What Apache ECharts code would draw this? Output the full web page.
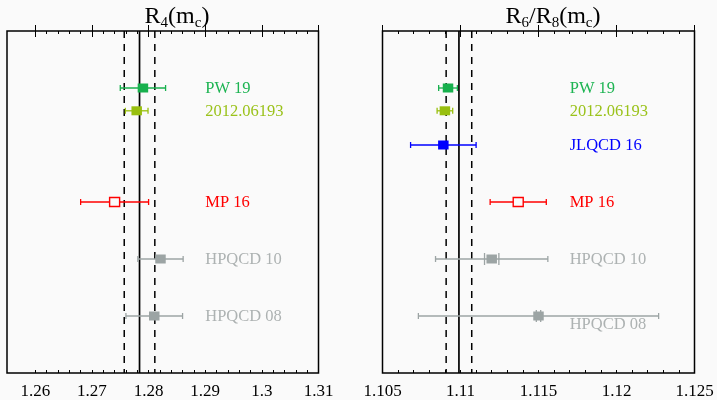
<!DOCTYPE html>
<html>
<head>
<meta charset="utf-8">
<script src="https://cdn.jsdelivr.net/npm/echarts@6/dist/echarts.min.js"></script>
<style>html,body{margin:0;padding:0;background:#fafafa}#c{width:717px;height:400px}</style>
</head>
<body>
<div id="c"></div>
<script>
// ---------- data ----------
const leftLabels = ['PW 19', '2012.06193', 'MP 16', 'HPQCD 10', 'HPQCD 08'];
const leftRows   = [1, 1.4, 3, 4, 5];
const leftVals   = [1.2790, 1.2779, 1.2740, 1.2821, 1.2810];
const leftErrs   = [0.0040, 0.0020, 0.0060, 0.0040, 0.0050];
const leftBand   = [1.2784, 0.0027];   // central value, error
const leftTicks  = [1.26, 1.27, 1.28, 1.29, 1.3, 1.31];

const rightLabels = ['PW 19', '2012.06193', 'JLQCD 16', 'MP 16', 'HPQCD 10', 'HPQCD 08'];
const rightRows   = [1, 1.4, 2, 3, 4, 5];
const rightVals   = [1.1092, 1.1090, 1.1089, 1.1137, 1.1120, 1.1150];
const rightErrs   = [0.0006, 0.0005, 0.0021, 0.0018, 0.0036, 0.0077];
const rightInner  = [0, 0, 0, 0, 0.00046, 0.00014];
const rightBand   = [1.1099, 0.00082];
const rightTicks  = [1.105, 1.11, 1.115, 1.12, 1.125];

// ---------- styles ----------
const FONT = '"Liberation Serif", "DejaVu Serif", serif';
const COLORS = {'PW 19':'#17b04d','2012.06193':'#98bf0e','JLQCD 16':'#0000ff','MP 16':'#ff0000','HPQCD 10':'#9ca4a4','HPQCD 08':'#9ca4a4'};
const TEXT_COLORS = {'PW 19':'#1db452','2012.06193':'#9ac21a','JLQCD 16':'#0000ff','MP 16':'#ff0000','HPQCD 10':'#adb2b2','HPQCD 08':'#adb2b2'};
const OPEN = {'MP 16': true};

function range(a, b, step) { const out = []; const n = Math.round((b - a) / step); for (let i = 0; i <= n; i++) out.push(+(a + i * step).toFixed(6)); return out; }

function axesFor(grid, min, max, majors, minors) {
  const base = {gridIndex: grid, type: 'value', min: min, max: max, splitLine: {show: false}, axisLine: {show: false}};
  const fmt = v => String(+(+v).toFixed(4));
  return [
    Object.assign({}, base, {position: 'bottom', axisTick: {inside: true, length: 6, customValues: majors, lineStyle: {color: '#000', width: 1}},
      axisLabel: {customValues: majors, formatter: fmt, fontFamily: FONT, fontSize: 17, color: '#000', margin: 10}}),
    Object.assign({}, base, {position: 'bottom', axisTick: {inside: true, length: 3, customValues: minors, lineStyle: {color: '#000', width: 1}}, axisLabel: {show: false}}),
    Object.assign({}, base, {position: 'top', axisTick: {inside: true, length: 6, customValues: majors, lineStyle: {color: '#000', width: 1}}, axisLabel: {show: false}}),
    Object.assign({}, base, {position: 'top', axisTick: {inside: true, length: 3, customValues: minors, lineStyle: {color: '#000', width: 1}}, axisLabel: {show: false}})
  ];
}

function bandSeries(xi, yi, band) {
  return {
    type: 'custom', xAxisIndex: xi, yAxisIndex: yi, z: 1, silent: true,
    data: [[band[0] - band[1], 0], [band[0], 0], [band[0] + band[1], 0]],
    renderItem: function (params, api) {
      const top = api.coord([api.value(0), 0]);
      const bot = api.coord([api.value(0), 6]);
      const solid = params.dataIndex === 1;
      return {type: 'line', shape: {x1: top[0], y1: top[1], x2: bot[0], y2: bot[1]},
        style: {stroke: '#000', lineWidth: solid ? 1.7 : 1.5, lineDash: solid ? null : [7, 6]}};
    }
  };
}

function errSeries(xi, yi, labels, rows, vals, errs, inner, labelX, labelDy) {
  return {
    type: 'custom', xAxisIndex: xi, yAxisIndex: yi, z: 5, silent: true,
    data: labels.map((l, i) => [vals[i], rows[i], errs[i], inner ? inner[i] : 0]),
    renderItem: function (params, api) {
      const name = labels[params.dataIndex];
      const x = api.value(0), y = api.value(1), e = api.value(2), ie = api.value(3);
      const c = api.coord([x, y]), l = api.coord([x - e, y]), r = api.coord([x + e, y]);
      const col = COLORS[name];
      const st = {stroke: col, lineWidth: 1.3};
      const ch = [
        {type: 'line', shape: {x1: l[0], y1: c[1], x2: r[0], y2: c[1]}, style: st},
        {type: 'line', shape: {x1: l[0], y1: c[1] - 3, x2: l[0], y2: c[1] + 3}, style: st},
        {type: 'line', shape: {x1: r[0], y1: c[1] - 3, x2: r[0], y2: c[1] + 3}, style: st}
      ];
      if (ie > 0) {
        const il = api.coord([x - ie, y]), ir = api.coord([x + ie, y]);
        ch.push({type: 'line', shape: {x1: il[0], y1: c[1] - 6, x2: il[0], y2: c[1] + 6}, style: st});
        ch.push({type: 'line', shape: {x1: ir[0], y1: c[1] - 6, x2: ir[0], y2: c[1] + 6}, style: st});
      }
      if (OPEN[name]) {
        ch.push({type: 'rect', shape: {x: c[0] - 5, y: c[1] - 4.5, width: 10, height: 9}, style: {fill: '#fafafa', stroke: col, lineWidth: 1.4}});
      } else {
        ch.push({type: 'rect', shape: {x: c[0] - 5.25, y: c[1] - 4.5, width: 10.5, height: 9}, style: {fill: col}});
      }
      const lp = api.coord([labelX, y]);
      ch.push({type: 'text', x: lp[0], y: c[1] + 1 + ((labelDy && labelDy[name]) || 0),
        style: {text: name, fill: TEXT_COLORS[name], font: '16.5px ' + FONT, align: 'left', verticalAlign: 'middle'}});
      return {type: 'group', children: ch};
    }
  };
}

const titleRich = {
  m: {fontSize: 24, fontFamily: FONT, fill: '#000', lineHeight: 28, verticalAlign: 'middle'},
  s: {fontSize: 15, fontFamily: FONT, fill: '#000', lineHeight: 15, verticalAlign: 'bottom'}
};

const chart = echarts.init(document.getElementById('c'), null, {renderer: 'canvas'});
chart.setOption({
  backgroundColor: '#fafafa',
  animation: false,
  grid: [
    {left: 7, top: 31, width: 311.5, height: 346, show: true, borderColor: '#000', borderWidth: 1.5, backgroundColor: '#fafafa'},
    {left: 382.5, top: 31, width: 312, height: 346, show: true, borderColor: '#000', borderWidth: 1.5, backgroundColor: '#fafafa'}
  ],
  xAxis: [].concat(
    axesFor(0, 1.255, 1.31, leftTicks, range(1.26, 1.31, 0.002)),
    axesFor(1, 1.105, 1.125, rightTicks, range(1.105, 1.125, 0.001))
  ),
  yAxis: [
    {gridIndex: 0, type: 'value', min: 0, max: 6, inverse: true, show: false},
    {gridIndex: 1, type: 'value', min: 0, max: 6, inverse: true, show: false}
  ],
  graphic: [
    {type: 'text', x: 177, y: 17, style: {text: '{m|R}{s|4}{m|(m}{s|c}{m|)}', rich: titleRich, align: 'center', verticalAlign: 'middle'}},
    {type: 'text', x: 553, y: 17, style: {text: '{m|R}{s|6}{m|/R}{s|8}{m|(m}{s|c}{m|)}', rich: titleRich, align: 'center', verticalAlign: 'middle'}}
  ],
  series: [
    bandSeries(0, 0, leftBand),
    errSeries(0, 0, leftLabels, leftRows, leftVals, leftErrs, null, 1.29, null),
    bandSeries(4, 1, rightBand),
    errSeries(4, 1, rightLabels, rightRows, rightVals, rightErrs, rightInner, 1.117, {'HPQCD 08': 7.5})
  ]
});
</script>
</body>
</html>
